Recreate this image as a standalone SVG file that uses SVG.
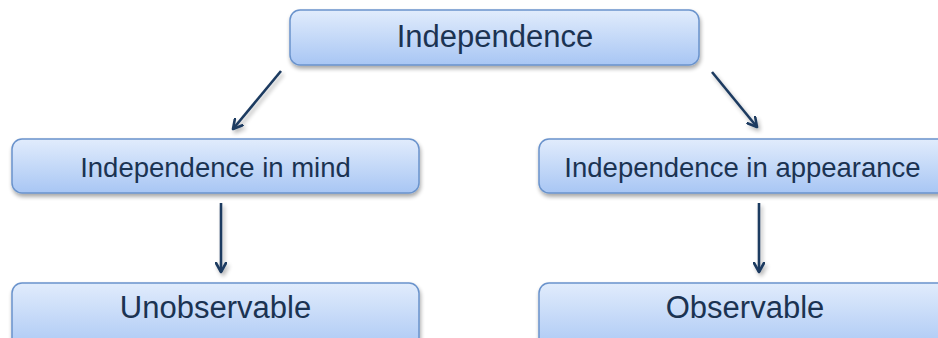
<svg xmlns="http://www.w3.org/2000/svg" width="938" height="338" viewBox="0 0 938 338">
<defs>
<linearGradient id="boxGrad" x1="0" y1="0" x2="0" y2="1">
<stop offset="0" stop-color="#e1ecfc"/>
<stop offset="1" stop-color="#a8c6f4"/>
</linearGradient>
<filter id="shadow" x="-10%" y="-20%" width="120%" height="150%">
<feGaussianBlur in="SourceAlpha" stdDeviation="2"/>
<feOffset dx="1" dy="3" result="b"/>
<feComponentTransfer><feFuncA type="linear" slope="0.35"/></feComponentTransfer>
<feMerge><feMergeNode/><feMergeNode in="SourceGraphic"/></feMerge>
</filter>
<filter id="lineShadow" filterUnits="userSpaceOnUse" x="0" y="0" width="938" height="338">
<feGaussianBlur in="SourceAlpha" stdDeviation="2"/>
<feOffset dx="2" dy="3" result="b"/>
<feComponentTransfer><feFuncA type="linear" slope="0.3"/></feComponentTransfer>
<feMerge><feMergeNode/><feMergeNode in="SourceGraphic"/></feMerge>
</filter>
<marker id="arrow" viewBox="0 0 12 12" refX="10" refY="6" markerWidth="12" markerHeight="12" markerUnits="userSpaceOnUse" orient="auto">
<path d="M1,1 L10,6 L1,11" fill="none" stroke="#1c3a60" stroke-width="2.6" stroke-linecap="round" stroke-linejoin="round"/>
</marker>
</defs>
<style>
.box{fill:url(#boxGrad);stroke:#6a93cc;stroke-width:1.5;filter:url(#shadow)}
.lbl{font-family:"Liberation Sans",Arial,sans-serif;fill:#1b3352;text-anchor:middle}
.big{font-size:31px}
.mid{font-size:27.5px}
.conn{stroke:#1c3a60;stroke-width:2.6;fill:none;marker-end:url(#arrow)}
</style>
<rect width="938" height="338" fill="#ffffff"/>
<g id="connectors" filter="url(#lineShadow)">
<line class="conn" x1="281" y1="71" x2="233" y2="129"/>
<line class="conn" x1="712" y1="72" x2="757" y2="127"/>
<line class="conn" x1="221" y1="203" x2="221" y2="272"/>
<line class="conn" x1="759" y1="203" x2="759" y2="272"/>
</g>
<g id="node-independence">
<rect class="box" x="290" y="10" width="409" height="55" rx="10"/>
<text class="lbl big" x="495" y="47">Independence</text>
</g>
<g id="node-mind">
<rect class="box" x="12" y="139" width="407" height="54" rx="10"/>
<text class="lbl mid" x="215.5" y="177">Independence in mind</text>
</g>
<g id="node-appearance">
<rect class="box" x="539" y="139" width="420" height="54" rx="10"/>
<text class="lbl mid" x="742.5" y="177">Independence in appearance</text>
</g>
<g id="node-unobservable">
<rect class="box" x="12" y="283" width="407" height="70" rx="10"/>
<text class="lbl big" x="215.5" y="318">Unobservable</text>
</g>
<g id="node-observable">
<rect class="box" x="539" y="283" width="420" height="70" rx="10"/>
<text class="lbl big" x="745" y="318">Observable</text>
</g>
</svg>
